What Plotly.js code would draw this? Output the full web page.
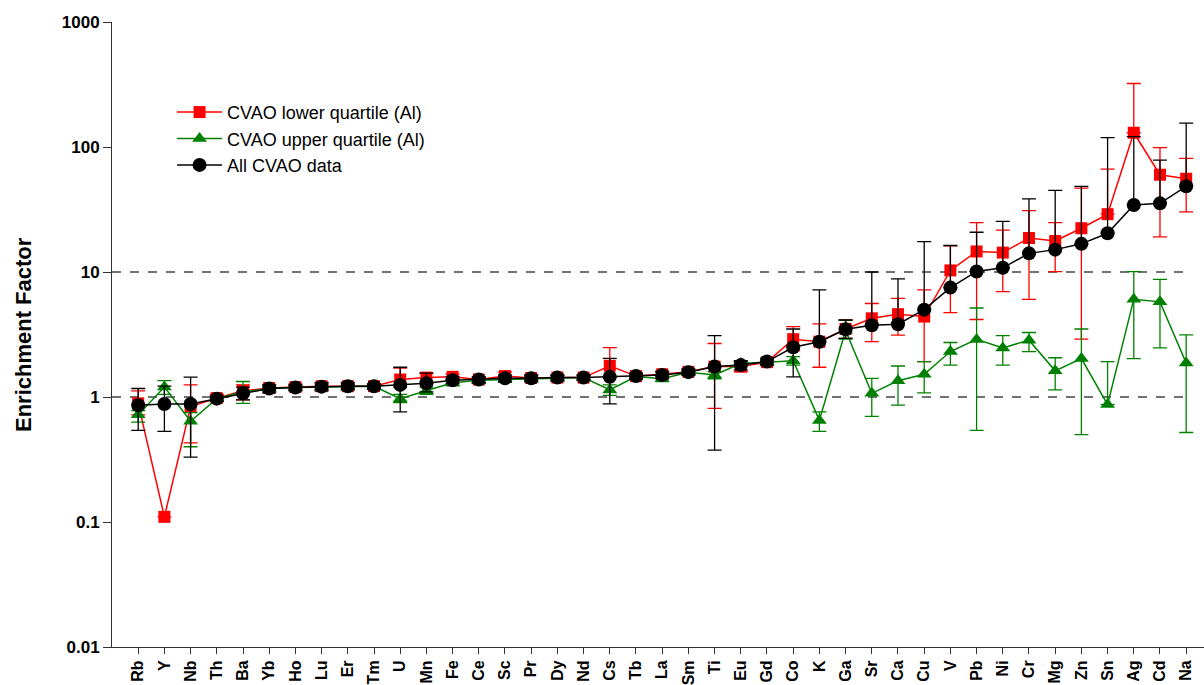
<!DOCTYPE html>
<html>
<head>
<meta charset="utf-8">
<script src="https://cdn.plot.ly/plotly-3.0.1.min.js"></script>
<style>html,body{margin:0;padding:0;background:#fff;}#chart{width:1204px;height:685px;}</style>
</head>
<body>
<div id="chart"></div>
<script>
const elements = ["Rb","Y","Nb","Th","Ba","Yb","Ho","Lu","Er","Tm","U","Mn","Fe","Ce","Sc","Pr","Dy","Nd","Cs","Tb","La","Sm","Ti","Eu","Gd","Co","K","Ga","Sr","Ca","Cu","V","Pb","Ni","Cr","Mg","Zn","Sn","Ag","Cd","Na"];

// CVAO lower quartile (Al)
const lowerQ      = [0.89,0.11,0.84,0.98,1.12,1.18,1.20,1.22,1.22,1.22,1.38,1.43,1.45,1.38,1.47,1.42,1.43,1.43,1.78,1.47,1.52,1.59,1.75,1.75,1.90,2.90,2.77,3.50,4.26,4.60,4.40,10.3,14.6,14.3,18.7,17.7,22.4,29.0,130,60.0,55.7];
const lowerQHigh  = [1.12,0.11,1.25,1.05,1.25,1.25,1.27,1.30,1.30,1.28,1.70,1.55,1.52,1.45,1.58,1.50,1.50,1.50,2.48,1.55,1.60,1.66,2.68,1.92,2.00,3.65,3.84,4.13,5.60,6.15,7.20,16.2,24.8,21.6,31.0,24.8,46.9,66.5,322,99.0,81.0];
const lowerQLow   = [0.72,0.11,0.43,0.93,0.95,1.10,1.13,1.14,1.15,1.16,1.20,1.28,1.38,1.30,1.38,1.35,1.36,1.36,1.45,1.40,1.44,1.52,0.81,1.60,1.80,2.35,1.73,2.94,2.77,3.13,1.92,4.73,4.17,6.97,6.05,10.06,2.90,29.0,130,19.1,30.3];

// CVAO upper quartile (Al)
const upperQ      = [0.72,1.20,0.64,0.97,1.10,1.17,1.19,1.20,1.21,1.22,0.97,1.12,1.30,1.36,1.38,1.40,1.42,1.43,1.14,1.46,1.40,1.58,1.50,1.85,1.90,1.95,0.65,3.40,1.07,1.35,1.52,2.31,2.89,2.47,2.85,1.62,2.03,0.87,6.06,5.77,1.87];
const upperQHigh  = [0.78,1.35,0.75,1.00,1.33,1.22,1.23,1.25,1.25,1.26,1.05,1.20,1.38,1.42,1.45,1.45,1.48,1.48,1.25,1.52,1.47,1.64,1.60,1.92,1.98,2.10,0.76,4.10,1.41,1.77,1.92,2.73,5.15,3.10,3.28,2.06,3.50,1.92,10.06,8.74,3.14];
const upperQLow   = [0.63,1.05,0.40,0.94,0.89,1.12,1.15,1.15,1.17,1.18,0.90,1.05,1.23,1.30,1.32,1.35,1.37,1.38,1.03,1.40,1.33,1.52,1.40,1.78,1.82,1.80,0.53,2.90,0.70,0.86,1.08,1.80,0.54,1.80,2.31,1.14,0.50,0.87,2.03,2.47,0.52];

// All CVAO data
const allData     = [0.86,0.88,0.88,0.97,1.07,1.17,1.19,1.21,1.22,1.22,1.25,1.29,1.36,1.38,1.41,1.41,1.43,1.43,1.45,1.47,1.50,1.58,1.75,1.80,1.92,2.50,2.77,3.48,3.75,3.82,5.00,7.50,10.1,10.8,14.1,15.1,16.8,20.4,34.4,35.4,48.5];
const allHigh     = [1.17,1.22,1.44,1.02,1.20,1.25,1.25,1.30,1.30,1.28,1.73,1.55,1.45,1.45,1.50,1.50,1.50,1.50,2.04,1.55,1.60,1.68,3.10,1.95,2.05,3.50,7.20,4.13,10.0,8.80,17.5,16.3,20.8,25.4,38.5,45.0,48.5,119,121,78.5,155];
const allLow      = [0.54,0.53,0.33,0.92,0.95,1.08,1.12,1.12,1.14,1.15,0.76,1.10,1.28,1.30,1.32,1.32,1.34,1.36,0.88,1.40,1.40,1.50,0.376,1.65,1.80,1.45,2.77,2.94,3.75,3.82,5.00,7.50,10.1,10.8,14.1,15.1,16.8,20.4,34.4,35.4,48.5];

const yTickVals = [0.01,0.1,1,10,100,1000];
const yTickText = ["0.01","0.1","1","10","100","1000"];
const refLevels = [1,10];

const xIdx = elements.map((_, i) => i);
function diff(a, b) { return a.map((v, i) => Math.max(0, v - b[i])); }

function mk(name, y, hi, lo, color, symbol, size) {
  return {
    type: 'scatter', mode: 'lines+markers', name: name,
    x: xIdx, y: y,
    line: {color: color, width: 1.5},
    marker: {color: color, symbol: symbol, size: size},
    error_y: {type: 'data', symmetric: false, array: diff(hi, y), arrayminus: diff(y, lo),
              color: color, thickness: 1.3, width: 7}
  };
}

const traces = [
  mk('CVAO lower quartile (Al)', lowerQ, lowerQHigh, lowerQLow, '#ff0000', 'square', 12),
  mk('CVAO upper quartile (Al)', upperQ, upperQHigh, upperQLow, '#008000', 'triangle-up', 13),
  mk('All CVAO data', allData, allHigh, allLow, '#000000', 'circle', 14)
];

const fontFam = '"Liberation Sans", Arial, sans-serif';

const layout = {
  width: 1204, height: 685,
  margin: {l: 112, r: 0, t: 22, b: 38},
  paper_bgcolor: '#fff', plot_bgcolor: '#fff',
  showlegend: true,
  legend: {x: 0.055, y: 0.885, xanchor: 'left', yanchor: 'top',
           font: {family: fontFam, size: 18, color: '#000'}, bgcolor: 'rgba(0,0,0,0)',
           tracegroupgap: 0, itemwidth: 45},
  xaxis: {
    range: [-1, 40.68], showgrid: false, zeroline: false,
    showline: true, linecolor: '#333', linewidth: 1,
    ticks: 'outside', ticklen: 6, tickcolor: '#333',
    tickmode: 'array', tickvals: xIdx, ticktext: elements,
    tickangle: -90,
    tickfont: {family: fontFam, size: 16, color: '#000', weight: 'bold'}
  },
  yaxis: {
    type: 'log', range: [-2, 3], showgrid: false, zeroline: false,
    showline: true, linecolor: '#333', linewidth: 1,
    ticks: 'outside', ticklen: 8, tickcolor: '#333',
    tickmode: 'array', tickvals: yTickVals, ticktext: yTickText,
    tickfont: {family: fontFam, size: 17, color: '#000', weight: 'bold'}
  },
  shapes: refLevels.map(v => ({type: 'line', xref: 'x', yref: 'y', x0: -1, x1: 40, y0: v, y1: v,
    line: {color: '#444', width: 1.5, dash: 'dash'}, layer: 'below'})),
  annotations: [{
    text: 'Enrichment Factor', xref: 'paper', yref: 'paper', x: -0.081, y: 0.5,
    xanchor: 'center', yanchor: 'middle', textangle: -90, showarrow: false,
    font: {family: fontFam, size: 22, color: '#000', weight: 'bold'}
  }]
};

Plotly.newPlot('chart', traces, layout, {displayModeBar: false, staticPlot: true});
</script>
</body>
</html>
